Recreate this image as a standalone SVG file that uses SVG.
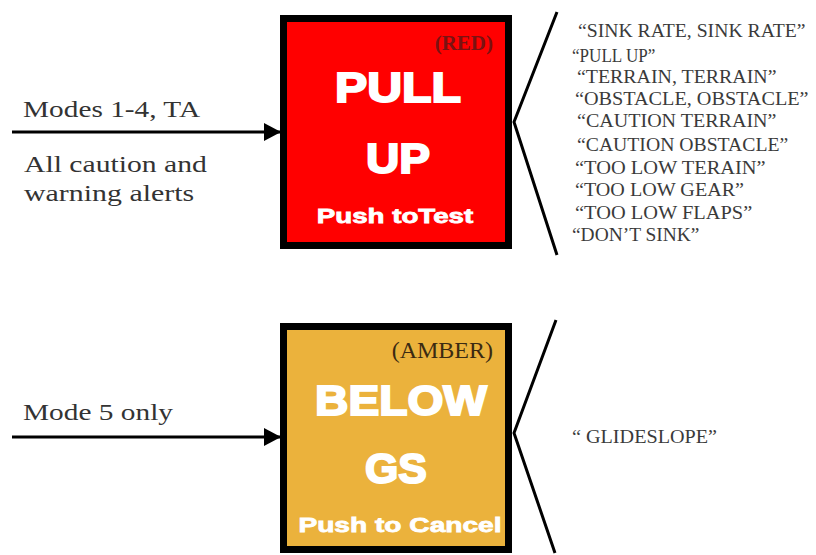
<svg xmlns="http://www.w3.org/2000/svg" width="816" height="555" viewBox="0 0 816 555">
  <defs>
    <style>
      .lbl { fill: #333333; font-size: 23px; }
      .big { font-weight: bold; fill: #ffffff; stroke: #ffffff; text-anchor: middle; }
      .line { stroke: #000000; stroke-width: 3; fill: none; }
      .box { stroke: #000000; stroke-width: 7; }
      .list { fill: #3a3a3a; font-size: 18px; }
    </style>
    <marker id="arrow" viewBox="0 0 17 18" refX="17" refY="9" markerWidth="17" markerHeight="18" markerUnits="userSpaceOnUse" orient="auto">
      <path d="M0,0 L17,9 L0,18 Z" fill="#000000"/>
    </marker>
  </defs>
  <rect width="816" height="555" fill="#ffffff"/>

  <g id="connectors">
    <line class="line" x1="12" y1="132" x2="281" y2="132" marker-end="url(#arrow)"/>
    <line class="line" x1="12" y1="437" x2="281" y2="437" marker-end="url(#arrow)"/>
    <polyline class="line" points="557,12 514,122 557,255"/>
    <polyline class="line" points="556,320 514,433 555,553"/>
  </g>

  <g id="input-labels-top">
    <text class="lbl" font-family="Liberation Serif, Times New Roman, serif" transform="translate(23,117) scale(1.275,1)">Modes 1-4, TA</text>
    <text class="lbl" font-family="Liberation Serif, Times New Roman, serif" transform="translate(24,172) scale(1.29,1)">All caution and</text>
    <text class="lbl" font-family="Liberation Serif, Times New Roman, serif" transform="translate(24,201) scale(1.3,1)">warning alerts</text>
  </g>

  <g id="input-label-bottom">
    <text class="lbl" font-family="Liberation Serif, Times New Roman, serif" transform="translate(23,420) scale(1.276,1)">Mode 5 only</text>
  </g>

  <g id="pull-up">
    <rect class="box" x="283.5" y="18.5" width="225" height="227" fill="#ff0000"/>
    <text x="493" y="50" font-family="Liberation Serif, Times New Roman, serif" font-weight="bold" font-size="21" fill="#7a1212" text-anchor="end">(RED)</text>
    <text class="big" font-family="Liberation Sans, Arial, sans-serif" font-size="42" stroke-width="2" transform="translate(398,102) scale(1.15,1)">PULL</text>
    <text class="big" font-family="Liberation Sans, Arial, sans-serif" font-size="42" stroke-width="2" transform="translate(398,173) scale(1.1,1)">UP</text>
    <text class="big" font-family="Liberation Sans, Arial, sans-serif" font-size="21" stroke-width="0.8" transform="translate(395,223) scale(1.32,1)">Push toTest</text>
  </g>

  <g id="below-gs">
    <rect class="box" x="283.5" y="326.5" width="225" height="223" fill="#ebb23c"/>
    <text x="493" y="358" font-family="Liberation Serif, Times New Roman, serif" font-size="24" fill="#3b2a12" text-anchor="end">(AMBER)</text>
    <text class="big" font-family="Liberation Sans, Arial, sans-serif" font-size="42" stroke-width="2" transform="translate(401,415) scale(1.1,1)">BELOW</text>
    <text class="big" font-family="Liberation Sans, Arial, sans-serif" font-size="42" stroke-width="2" transform="translate(396,483) scale(1.02,1)">GS</text>
    <text class="big" font-family="Liberation Sans, Arial, sans-serif" font-size="21" stroke-width="0.8" transform="translate(400,532) scale(1.34,1)">Push to Cancel</text>
  </g>

  <g id="pull-up-callouts">
    <text class="list" font-family="Liberation Serif, Times New Roman, serif" transform="translate(578,37) scale(1.094,1)">“SINK RATE, SINK RATE”</text>
    <text class="list" font-family="Liberation Serif, Times New Roman, serif" transform="translate(572,62) scale(0.95,1)">“PULL UP”</text>
    <text class="list" font-family="Liberation Serif, Times New Roman, serif" transform="translate(577,83) scale(1.105,1)">“TERRAIN, TERRAIN”</text>
    <text class="list" font-family="Liberation Serif, Times New Roman, serif" transform="translate(575,105) scale(1.123,1)">“OBSTACLE, OBSTACLE”</text>
    <text class="list" font-family="Liberation Serif, Times New Roman, serif" transform="translate(577,127) scale(1.114,1)">“CAUTION TERRAIN”</text>
    <text class="list" font-family="Liberation Serif, Times New Roman, serif" transform="translate(577,151) scale(1.095,1)">“CAUTION OBSTACLE”</text>
    <text class="list" font-family="Liberation Serif, Times New Roman, serif" transform="translate(575,174) scale(1.136,1)">“TOO LOW TERAIN”</text>
    <text class="list" font-family="Liberation Serif, Times New Roman, serif" transform="translate(575,196) scale(1.118,1)">“TOO LOW GEAR”</text>
    <text class="list" font-family="Liberation Serif, Times New Roman, serif" transform="translate(575,219) scale(1.134,1)">“TOO LOW FLAPS”</text>
    <text class="list" font-family="Liberation Serif, Times New Roman, serif" transform="translate(572,241) scale(1.08,1)">“DON’T SINK”</text>
  </g>

  <g id="below-gs-callout">
    <text class="list" font-family="Liberation Serif, Times New Roman, serif" transform="translate(572,443) scale(1.12,1)">“ GLIDESLOPE”</text>
  </g>
</svg>
